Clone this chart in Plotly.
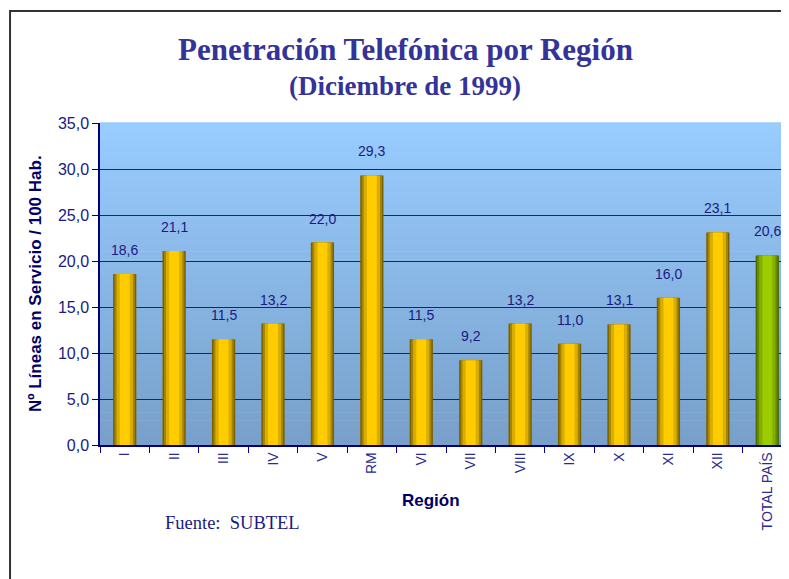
import plotly.graph_objects as go

regions = ["I", "II", "III", "IV", "V", "RM", "VI", "VII", "VIII", "IX", "X", "XI", "XII", "TOTAL PAÍS"]
penetration = [18.6, 21.1, 11.5, 13.2, 22.0, 29.3, 11.5, 9.2, 13.2, 11.0, 13.1, 16.0, 23.1, 20.6]
y_ticks = [0, 5, 10, 15, 20, 25, 30, 35]

NAVY = "#1a1a80"
SANS = "Liberation Sans, Arial, sans-serif"
SERIF = "Liberation Serif, Times New Roman, serif"

fig = go.Figure()

# cylinder-like bars: overlaid layers of decreasing width
layers = [
    (0.47, "#7a6000", "#4a6a00"),
    (0.41, "#a48400", "#688c00"),
    (0.33, "#d9ae00", "#86ae00"),
    (0.20, "#ffcc00", "#9acc00"),
]
n = len(regions)
for w, gold, green in layers:
    colors = [gold] * (n - 1) + [green]
    fig.add_trace(go.Bar(
        x=regions, y=penetration, width=w,
        marker=dict(color=colors, line=dict(width=0)),
        hoverinfo="skip", showlegend=False,
    ))

# value labels
for r, v in zip(regions, penetration):
    fig.add_annotation(
        x=r, y=v, text=f"{v:.1f}".replace(".", ","), showarrow=False,
        yshift=24, font=dict(family=SANS, size=14, color=NAVY),
    )

# gradient plot background
top = (153, 204, 255)
bot = (120, 160, 202)
N = 40
for i in range(N):
    t = i / (N - 1)
    c = tuple(round(bot[k] + (top[k] - bot[k]) * t) for k in range(3))
    fig.add_shape(
        type="rect", xref="paper", yref="paper",
        x0=0, x1=1, y0=i / N, y1=(i + 1) / N + 0.002,
        fillcolor=f"rgb{c}", line=dict(width=0), layer="below",
    )

# outer frame
fig.add_shape(
    type="rect", xref="paper", yref="paper",
    x0=-0.130, x1=1.2, y0=-0.7, y1=1.348,
    line=dict(color="#333333", width=2), fillcolor="rgba(0,0,0,0)", layer="above",
)

fig.add_annotation(
    xref="paper", yref="paper", x=0.441, y=1.227, showarrow=False,
    text="<b>Penetración Telefónica por Región</b>",
    font=dict(family=SERIF, size=31, color="#333399"), yanchor="middle",
)
fig.add_annotation(
    xref="paper", yref="paper", x=0.441, y=1.115, showarrow=False,
    text="<b>(Diciembre de 1999)</b>",
    font=dict(family=SERIF, size=27, color="#333399"), yanchor="middle",
)
fig.add_annotation(
    xref="paper", yref="paper", x=-0.094, y=0.503, showarrow=False,
    xanchor="center", yanchor="middle",
    text="<b>Nº Líneas en Servicio / 100 Hab.</b>", textangle=-90,
    font=dict(family=SANS, size=17, color="#000066"),
)
fig.add_annotation(
    xref="paper", yref="paper", x=0.478, y=-0.171, showarrow=False,
    xanchor="center", yanchor="middle",
    text="<b>Región</b>", font=dict(family=SANS, size=17, color="#000066"),
)
fig.add_annotation(
    xref="paper", yref="paper", x=0.091, y=-0.242, showarrow=False,
    xanchor="left", yanchor="middle", text="Fuente:  SUBTEL",
    font=dict(family=SERIF, size=18.5, color=NAVY),
)

fig.update_layout(
    width=789, height=579,
    margin=dict(l=92, r=5, t=115, b=142),
    paper_bgcolor="white", plot_bgcolor="rgba(0,0,0,0)",
    barmode="overlay", separators=",.",
    xaxis=dict(
        tickangle=-90, tickson="boundaries", ticks="outside", ticklen=6,
        tickcolor="#000080", showline=True, linecolor="#000080", linewidth=1.5,
        tickfont=dict(family=SANS, size=14, color="#2a2a90"), showgrid=False,
    ),
    yaxis=dict(
        range=[0, 35], tickvals=y_ticks, tickformat=".1f",
        ticks="outside", ticklen=6, tickcolor="#000080",
        showline=True, linecolor="#000080", linewidth=1.5,
        showgrid=True, gridcolor="#1c1c9a", gridwidth=1,
        tickfont=dict(family=SANS, size=16, color=NAVY), zeroline=False,
    ),
)

fig.write_html("out.html")
